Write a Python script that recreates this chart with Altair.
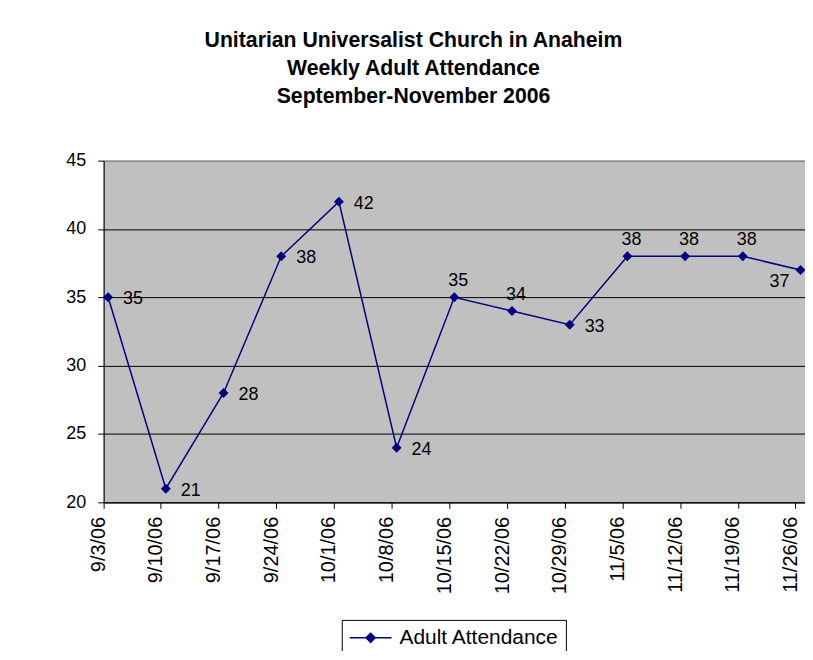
import altair as alt
import pandas as pd

# ---- data ----
dates = ["9/3/06", "9/10/06", "9/17/06", "9/24/06", "10/1/06", "10/8/06", "10/15/06",
         "10/22/06", "10/29/06", "11/5/06", "11/12/06", "11/19/06", "11/26/06"]
attendance = [35, 21, 28, 38, 42, 24, 35, 34, 33, 38, 38, 38, 37]
series_name = "Adult Attendance"
title_lines = ["Unitarian Universalist Church in Anaheim",
               "Weekly Adult Attendance",
               "September-November 2006"]
y_ticks = [20, 25, 30, 35, 40, 45]

# which data labels sit where
labels_right = ["9/3/06", "9/10/06", "9/17/06", "9/24/06", "10/1/06", "10/8/06", "10/29/06"]
labels_above = ["10/15/06", "10/22/06", "11/5/06", "11/12/06", "11/19/06"]
labels_below_left = ["11/26/06"]

df = pd.DataFrame({"date": dates, "attendance": attendance,
                   "series": [series_name] * len(dates)})

FONT = "Liberation Sans"
NAVY = "#000080"

x_enc = alt.X("date:O", sort=dates,
              scale=alt.Scale(type="point", padding=0.078),
              axis=alt.Axis(title=None, labelAngle=270, labelAlign="right",
                            labelBaseline="middle", labelFontSize=20, labelPadding=8,
                            tickSize=6, tickColor="black", domainColor="black",
                            tickOffset=-5, labelOffset=-5,
                            labelColor="black", labelFont=FONT, grid=False))
y_enc = alt.Y("attendance:Q",
              scale=alt.Scale(domain=[20, 45], nice=False, zero=False),
              axis=alt.Axis(title=None, values=y_ticks, labelFontSize=18,
                            labelFont=FONT, labelColor="black", labelPadding=12,
                            tickSize=6, tickColor="black", domainColor="black",
                            grid=True,
                            gridColor={"condition": {"test": "datum.value >= 45", "value": "#808080"},
                                       "value": "#000000"},
                            gridWidth=1))

# legend symbol: a short navy line with a diamond in its middle
color_enc = alt.Color("series:N", scale=alt.Scale(range=[NAVY]),
                      legend=alt.Legend(title=None, orient="none", legendX=239, legendY=461,
                                        symbolType="M-1,0L3.2,0M1.1,-0.45L1.55,0L1.1,0.45L0.65,0Z",
                                        symbolSize=400, symbolStrokeWidth=1.5,
                                        symbolFillColor=NAVY, symbolStrokeColor=NAVY,
                                        labelFontSize=21, labelFont=FONT, labelColor="black",
                                        labelOffset=29, padding=7, strokeColor="black",
                                        fillColor="white", cornerRadius=0))

base = alt.Chart(df)

line = base.mark_line(strokeWidth=1.5).encode(x=x_enc, y=y_enc, color=color_enc)
points = base.mark_point(shape="diamond", filled=True, size=100, opacity=1).encode(
    x=x_enc, y=y_enc, color=color_enc)

txt_kw = dict(fontSize=18, font=FONT, color="black")
lab_right = base.transform_filter(
    alt.FieldOneOfPredicate(field="date", oneOf=labels_right)
).mark_text(align="left", baseline="middle", dx=15, dy=2, **txt_kw).encode(
    x=x_enc, y=y_enc, text="attendance:Q")
lab_above = base.transform_filter(
    alt.FieldOneOfPredicate(field="date", oneOf=labels_above)
).mark_text(align="center", baseline="middle", dx=4, dy=-16, **txt_kw).encode(
    x=x_enc, y=y_enc, text="attendance:Q")
lab_below = base.transform_filter(
    alt.FieldOneOfPredicate(field="date", oneOf=labels_below_left)
).mark_text(align="right", baseline="middle", dx=-11, dy=12, **txt_kw).encode(
    x=x_enc, y=y_enc, text="attendance:Q")

chart = alt.layer(line, points, lab_right, lab_above, lab_below).properties(
    width=704, height=343,
    padding={"left": 96, "top": 152, "right": 0, "bottom": 148},
    autosize=alt.AutoSizeParams(type="none"),
    background="white",
    title=alt.TitleParams(text=title_lines, font=FONT, fontSize=21.3, fontWeight="bold",
                          color="black", anchor="middle", frame="group", dx=-41,
                          offset=45, lineHeight=28),
).configure_view(fill="#C0C0C0", stroke="#808080", strokeWidth=1)

chart.save("out.html", embed_options={"renderer": "svg", "actions": False})
